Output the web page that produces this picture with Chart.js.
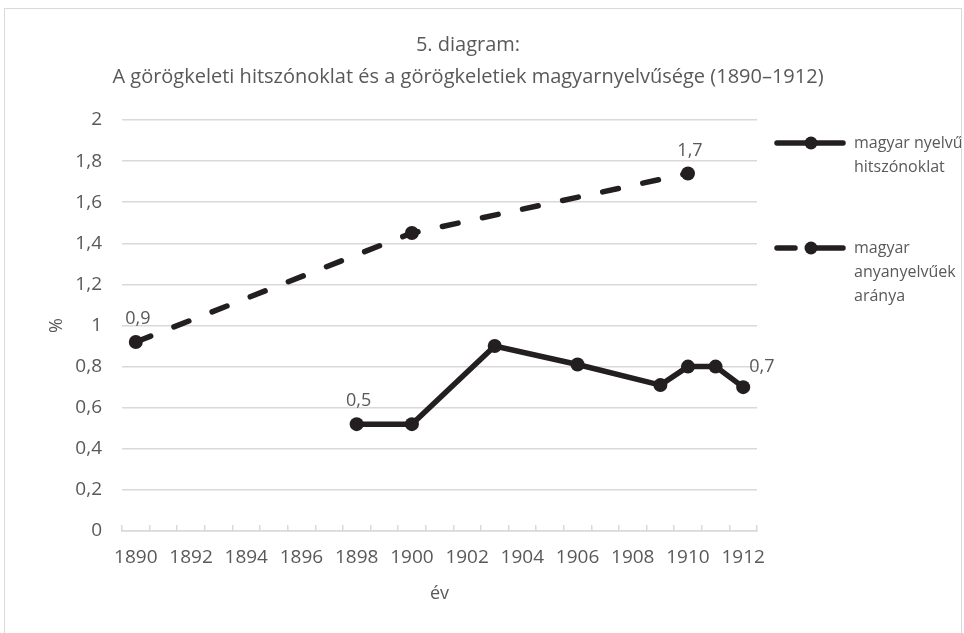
<!DOCTYPE html>
<html>
<head>
<meta charset="utf-8">
<script src="https://cdn.jsdelivr.net/npm/chart.js@4/dist/chart.umd.min.js"></script>
<style>
  body { margin: 0; background: #fff; }
  #keret { position: absolute; left: 4px; top: 8px; width: 956px; height: 640px; border: 1px solid #d9d9d9; }
  #doboz { position: relative; width: 956px; height: 624px; }
</style>
</head>
<body>
<div id="keret"><div id="doboz"><canvas id="grafikon"></canvas></div></div>
<script>
// adatok
var evek = ['1890','1891','1892','1893','1894','1895','1896','1897','1898','1899','1900','1901',
            '1902','1903','1904','1905','1906','1907','1908','1909','1910','1911','1912'];
var hitszonoklatEvek = ['1898','1900','1903','1906','1909','1910','1911','1912'];
var hitszonoklat = [0.52, 0.52, 0.90, 0.81, 0.71, 0.80, 0.80, 0.70];
var hitszonoklatCimkek = ['0,5', null, null, null, null, null, null, '0,7'];
var anyanyelvEvek = ['1890','1900','1910'];
var anyanyelv = [0.92, 1.45, 1.74];
var anyanyelvCimkek = ['0,9', null, '1,7'];
var yTickek = [0, 0.2, 0.4, 0.6, 0.8, 1, 1.2, 1.4, 1.6, 1.8, 2];

var cimSorok = ['5. diagram:', 'A görögkeleti hitszónoklat és a görögkeletiek magyarnyelvűsége (1890–1912)'];
var jelmagyarazat = [['magyar nyelvű', 'hitszónoklat'], ['magyar', 'anyanyelvűek', 'aránya']];

var FEKETE = '#231f20';
var SZURKE = '#595959';
var BETU = '"Open Sans", "Noto Sans", sans-serif';

function pontok(xek, yok) {
  return xek.map(function(x, i) { return { x: x, y: yok[i] }; });
}

// cim, jelmagyarazat es adatcimkek
var rajzolo = {
  id: 'rajzolo',
  afterDraw: function(chart) {
    var ctx = chart.ctx;
    var area = chart.chartArea;
    ctx.save();
    ctx.fillStyle = SZURKE;
    ctx.textAlign = 'center';
    ctx.textBaseline = 'middle';
    ctx.font = '20px ' + BETU;
    ctx.fillText(cimSorok[0], 463, 36);
    ctx.fillText(cimSorok[1], 463, 68);

    // adatcimkek
    ctx.font = '18px ' + BETU;
    var cimkek = [hitszonoklatCimkek, anyanyelvCimkek];
    chart.data.datasets.forEach(function(ds, d) {
      var meta = chart.getDatasetMeta(d);
      meta.data.forEach(function(pt, i) {
        var t = cimkek[d][i];
        if (!t) return;
        if (d === 0 && i === meta.data.length - 1) {
          ctx.textAlign = 'left';
          ctx.fillText(t, pt.x + 6, pt.y - 20);
          ctx.textAlign = 'center';
        } else {
          ctx.fillText(t, pt.x + 2, pt.y - 23);
        }
      });
    });

    // jelmagyarazat
    ctx.font = '16px ' + BETU;
    ctx.textAlign = 'left';
    var lx = area.right + 18;
    var ys = [134, 239];
    chart.data.datasets.forEach(function(ds, d) {
      var y = ys[d];
      ctx.strokeStyle = FEKETE;
      ctx.lineWidth = 5.5;
      ctx.lineCap = 'round';
      if (d === 1) {
        ctx.beginPath(); ctx.moveTo(lx + 2, y); ctx.lineTo(lx + 20, y); ctx.stroke();
        ctx.beginPath(); ctx.moveTo(lx + 36, y); ctx.lineTo(lx + 68, y); ctx.stroke();
      } else {
        ctx.beginPath(); ctx.moveTo(lx + 2, y); ctx.lineTo(lx + 68, y); ctx.stroke();
      }
      ctx.fillStyle = FEKETE;
      ctx.beginPath(); ctx.arc(lx + 36, y, 6.5, 0, Math.PI * 2); ctx.fill();
      ctx.fillStyle = SZURKE;
      jelmagyarazat[d].forEach(function(sor, k) {
        ctx.fillText(sor, lx + 79, y + k * 24);
      });
    });
    ctx.restore();
  }
};

var ctx = document.getElementById('grafikon').getContext('2d');
new Chart(ctx, {
  type: 'line',
  data: {
    labels: evek,
    datasets: [{
      label: 'magyar nyelvű hitszónoklat',
      data: pontok(hitszonoklatEvek, hitszonoklat),
      borderColor: FEKETE,
      backgroundColor: FEKETE,
      borderWidth: 5.5,
      pointRadius: 7,
      pointBorderWidth: 0,
      tension: 0
    }, {
      label: 'magyar anyanyelvűek aránya',
      data: pontok(anyanyelvEvek, anyanyelv),
      borderColor: FEKETE,
      backgroundColor: FEKETE,
      borderWidth: 5.5,
      borderDash: [16, 25],
      borderCapStyle: 'round',
      pointRadius: 7,
      pointBorderWidth: 0,
      tension: 0
    }]
  },
  options: {
    responsive: true,
    maintainAspectRatio: false,
    animation: false,
    layout: { padding: { top: 111, right: 204, left: 0, bottom: 0 } },
    plugins: {
      legend: { display: false },
      title: { display: false },
      tooltip: { enabled: false }
    },
    scales: {
      x: {
        type: 'category',
        offset: true,
        afterFit: function(s) { s.height = 102; },
        grid: { offset: true, drawOnChartArea: false, tickLength: -6, color: '#d9d9d9', lineWidth: 1.5 },
        border: { color: '#d9d9d9', width: 1.5 },
        ticks: {
          autoSkip: false,
          maxRotation: 0,
          padding: 21,
          color: SZURKE,
          font: { family: BETU, size: 19 },
          callback: function(v, i) { return i % 2 === 0 ? evek[i] : ''; }
        },
        title: { display: true, text: 'év', color: SZURKE, font: { family: BETU, size: 18 }, padding: { top: 28, bottom: 28 } }
      },
      y: {
        min: 0,
        max: 2,
        afterFit: function(s) { s.width = 117; },
        afterBuildTicks: function(s) { s.ticks = yTickek.map(function(v) { return { value: v }; }); },
        grid: { drawTicks: false, color: '#d9d9d9', lineWidth: 1.5 },
        border: { display: false },
        ticks: {
          padding: 20,
          color: SZURKE,
          font: { family: BETU, size: 19 },
          callback: function(v) { return String(v).replace('.', ','); }
        },
        title: { display: true, text: '%', color: SZURKE, font: { family: BETU, size: 18 }, padding: { top: 41, bottom: 41 } }
      }
    }
  },
  plugins: [rajzolo]
});
</script>
</body>
</html>
